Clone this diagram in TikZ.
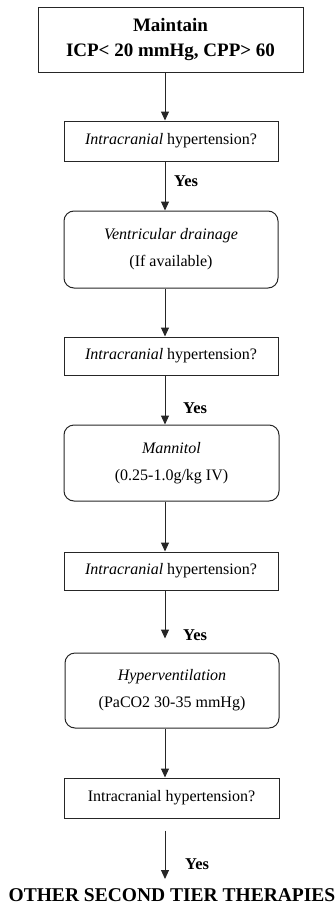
\documentclass[tikz,border=0pt]{standalone}
\usepackage{fontspec}
\setmainfont{Liberation Serif}
\usetikzlibrary{arrows.meta}
\begin{document}
\begin{tikzpicture}[x=1pt,y=-1pt,
  box/.style={draw=black!85, line width=1pt, minimum width=214pt, inner sep=0pt, align=center, font=\fontsize{16}{27}\selectfont},
  rbox/.style={box, rounded corners=10pt},
  arr/.style={draw=black!85, line width=1pt, -{Triangle[length=9pt,width=8pt]}},
  yes/.style={anchor=west, font=\bfseries\fontsize{16.5}{18}\selectfont, inner sep=0pt}
]
\useasboundingbox (0,0) rectangle (336,910);
\coordinate (ax) at (165,0);
\node[box, minimum width=265pt, minimum height=65pt, font=\bfseries\fontsize{19}{25}\selectfont] (b1) at (170.5,39.5) {Maintain\\ICP< 20 mmHg, CPP> 60};
\node[box, minimum height=40pt] (b2) at (171,141) {\textit{Intracranial} hypertension?};
\node[rbox, minimum height=77pt] (b3) at (171,249.5) {\textit{Ventricular drainage}\\(If available)};
\node[box, minimum height=38pt] (b4) at (171,356) {\textit{Intracranial} hypertension?};
\node[rbox, minimum width=215pt, minimum height=76pt] (b5) at (171.5,463) {\textit{Mannitol}\\(0.25-1.0g/kg IV)};
\node[box, minimum height=38pt] (b6) at (171,571) {\textit{Intracranial} hypertension?};
\node[rbox, minimum height=75pt] (b7) at (172,690.5) {\textit{Hyperventilation}\\(PaCO2 30-35 mmHg)};
\node[box, minimum width=215pt, minimum height=40pt] (b8) at (171.5,798) {Intracranial hypertension?};
\node[font=\bfseries\fontsize{19.5}{22}\selectfont, inner sep=0pt] (fin) at (172,895) {OTHER SECOND TIER THERAPIES};
\coordinate (fintop) at (165,879);

\draw[arr] (b1.south -| ax) -- (b2.north -| ax);
\draw[arr] (b2.south -| ax) -- (b3.north -| ax);
\draw[arr] (b3.south -| ax) -- (b4.north -| ax);
\draw[arr] (b4.south -| ax) -- (b5.north -| ax);
\draw[arr] (b5.south -| ax) -- (b6.north -| ax);
\draw[arr, shorten >=14pt] (b6.south -| ax) -- (b7.north -| ax);
\draw[arr] (b7.south -| ax) -- (b8.north -| ax);
\draw[arr, shorten <=12pt] (b8.south -| ax) -- (fintop);

\node[yes] (y1) at (174,181) {Yes};
\node[yes] (y2) at (183,408) {Yes};
\node[yes] (y3) at (183,635) {Yes};
\node[yes] (y4) at (185,864) {Yes};
\end{tikzpicture}
\end{document}
